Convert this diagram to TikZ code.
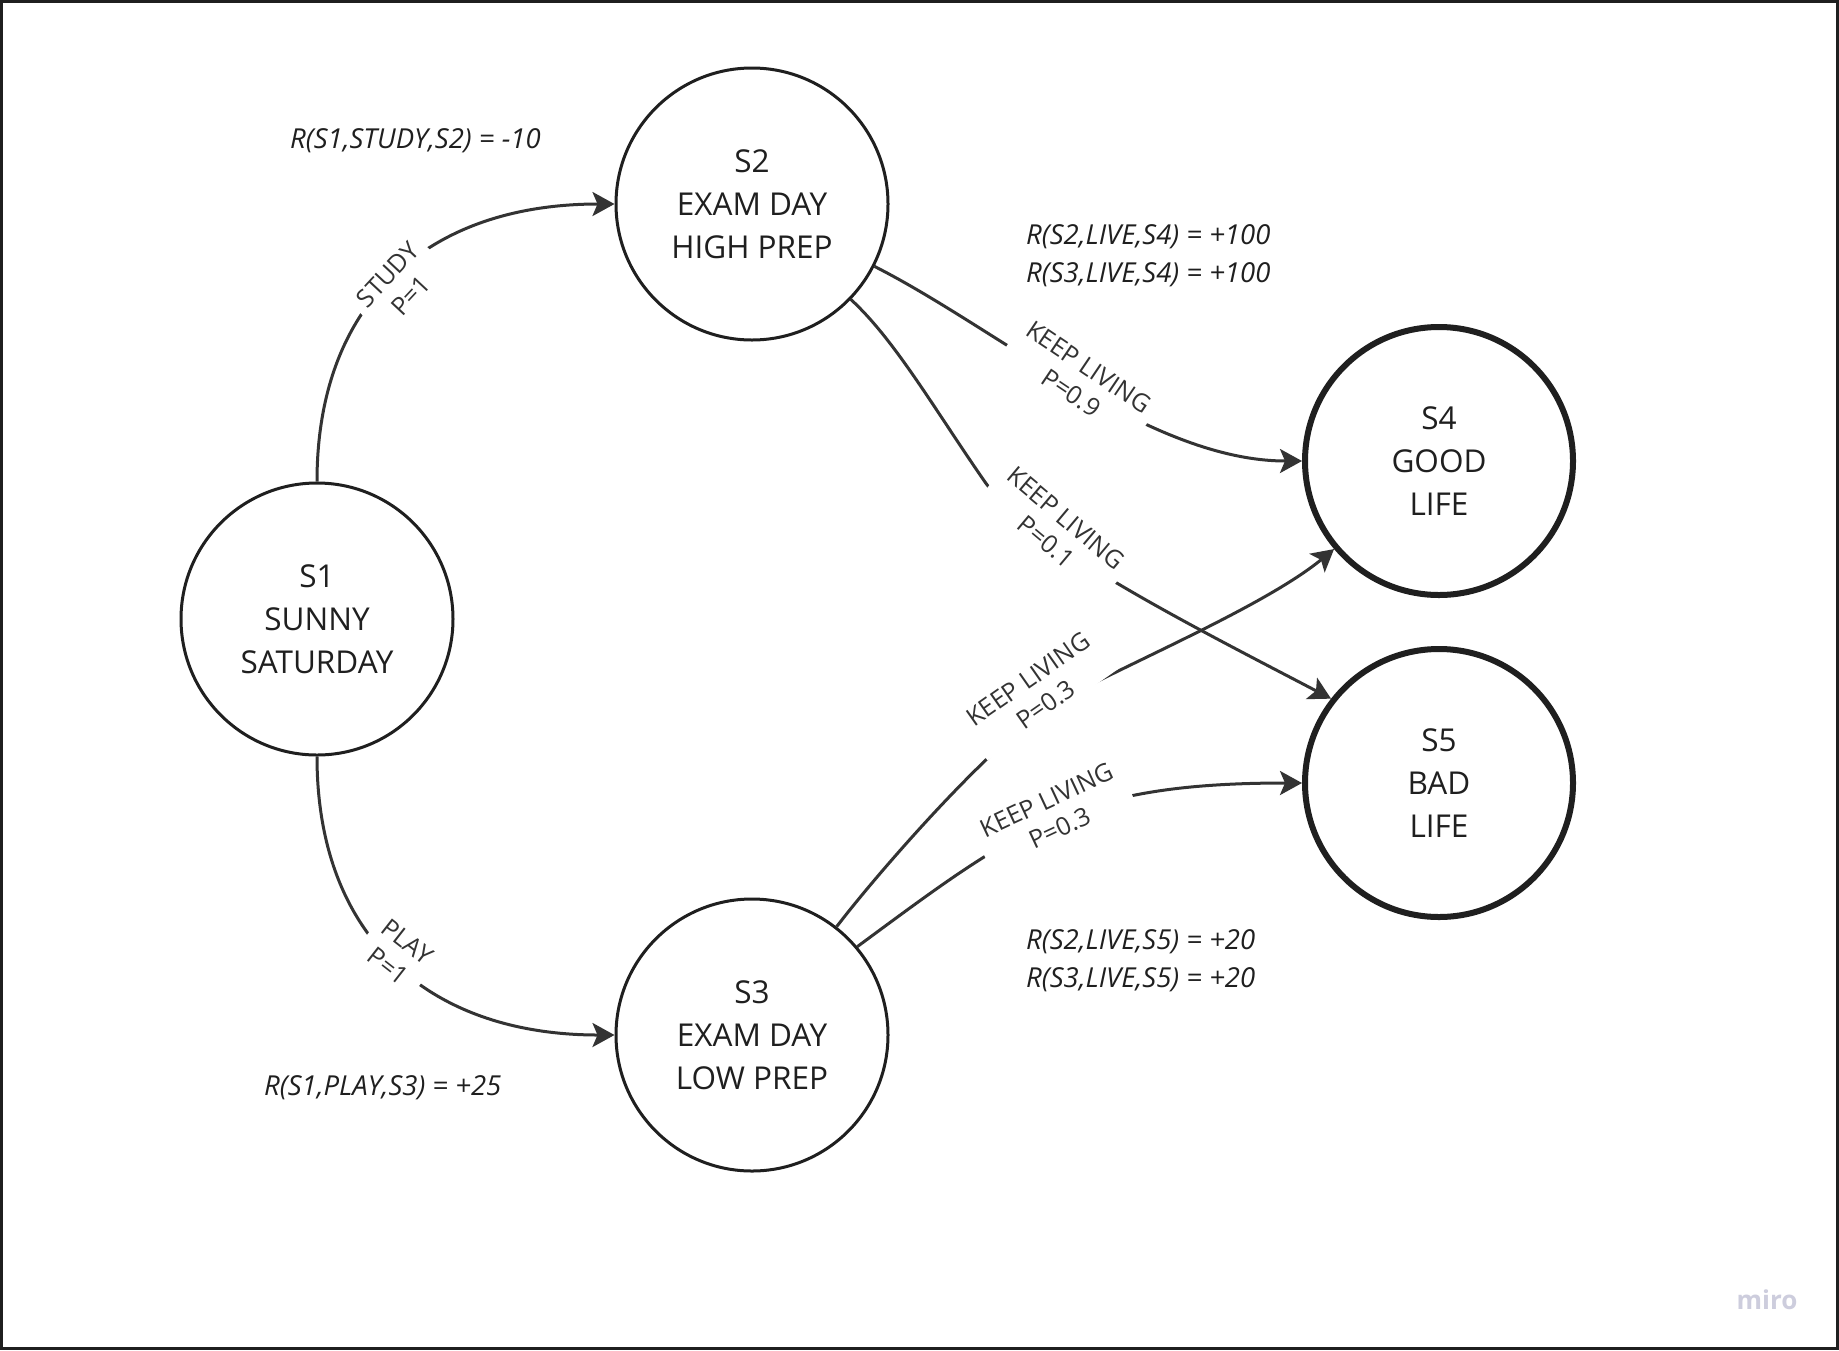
\documentclass[tikz,border=0pt]{standalone}
\usepackage{fontspec}
\setmainfont{Open Sans}
\newfontfamily\handfont{Open Sans}
\usetikzlibrary{arrows.meta}
\definecolor{ink}{HTML}{1F1F1F}
\definecolor{edgec}{HTML}{333333}
\definecolor{miroc}{HTML}{CDCDDD}
\begin{document}
\begin{tikzpicture}[x=1pt,y=-1pt,
  state/.style={circle, draw=ink, line width=3pt, minimum size=272pt, inner sep=0pt, align=center, font=\fontsize{31.5}{43}\selectfont, text=ink},
  final/.style={state, line width=6pt, minimum size=268pt},
  conn/.style={draw=edgec, line width=3pt},
  arr/.style={conn, -{Stealth[length=22pt,width=24pt,inset=5pt]}},
  elabel/.style={fill=white, text=edgec, align=center, font=\fontsize{25}{31}\selectfont, inner xsep=8pt, inner ysep=3pt},
  reward/.style={anchor=west, align=left, text=ink, font=\handfont\itshape\fontsize{27.5}{38}\selectfont, inner sep=0pt}]
\path[use as bounding box] (0,0) rectangle (1839,1350);
\fill[white] (0,0) rectangle (1839,1350);
\draw[ink, line width=3pt] (1.5,1.5) rectangle (1837.5,1348.5);

\node[state] (s1) at (317,619) {S1\\SUNNY\\SATURDAY};
\node[state] (s2) at (752,204) {S2\\EXAM DAY\\HIGH PREP};
\node[state] (s3) at (752,1035) {S3\\EXAM DAY\\LOW PREP};
\node[final] (s4) at (1439,461) {S4\\GOOD\\LIFE};
\node[final] (s5) at (1439,783) {S5\\BAD\\LIFE};

\draw[arr] (s1.north) .. controls (317,300) and (430,204) .. (s2.west);
\draw[arr] (s1.south) .. controls (317,938) and (430,1035) .. (s3.west);
\draw[arr] (s2.-27) .. controls (1000,330) and (1150,461) .. (s4.west);
\draw[arr] (s2.-44) .. controls (895,340) and (935,410) .. (985,482) .. controls (1030,545) and (1200,630) .. (s5.142);
\draw[arr] (s3.52) .. controls (880,870) and (990,745) .. (1048,708) .. controls (1100,675) and (1260,610) .. (s4.220);
\draw[arr] (s3.40) .. controls (1018,828) and (1075,783) .. (s5.west);

\node[elabel, rotate=47] (l1) at (399,285) {STUDY\\P=1};
\node[elabel, rotate=-38] (l2) at (398,954) {PLAY\\P=1};
\node[elabel, rotate=-34] (l3) at (1080,380) {KEEP LIVING\\P=0.9};
\node[elabel, rotate=-40] (l4) at (1056,530) {KEEP LIVING\\P=0.1};
\node[elabel, rotate=35] (l5) at (1037,692) {KEEP LIVING\\P=0.3};
\node[elabel, rotate=25] (l6) at (1053,814) {KEEP LIVING\\P=0.3};

\node[reward] (r1) at (290,141) {R(S1,STUDY,S2) = -10};
\node[reward] (r2) at (1026,256) {R(S2,LIVE,S4) = +100\\R(S3,LIVE,S4) = +100};
\node[reward] (r3) at (1026,961) {R(S2,LIVE,S5) = +20\\R(S3,LIVE,S5) = +20};
\node[reward] (r4) at (264,1088) {R(S1,PLAY,S3) = +25};

\node[text=miroc, font=\bfseries\fontsize{26}{30}\selectfont] (wm) at (1767,1300) {miro};
\end{tikzpicture}
\end{document}
